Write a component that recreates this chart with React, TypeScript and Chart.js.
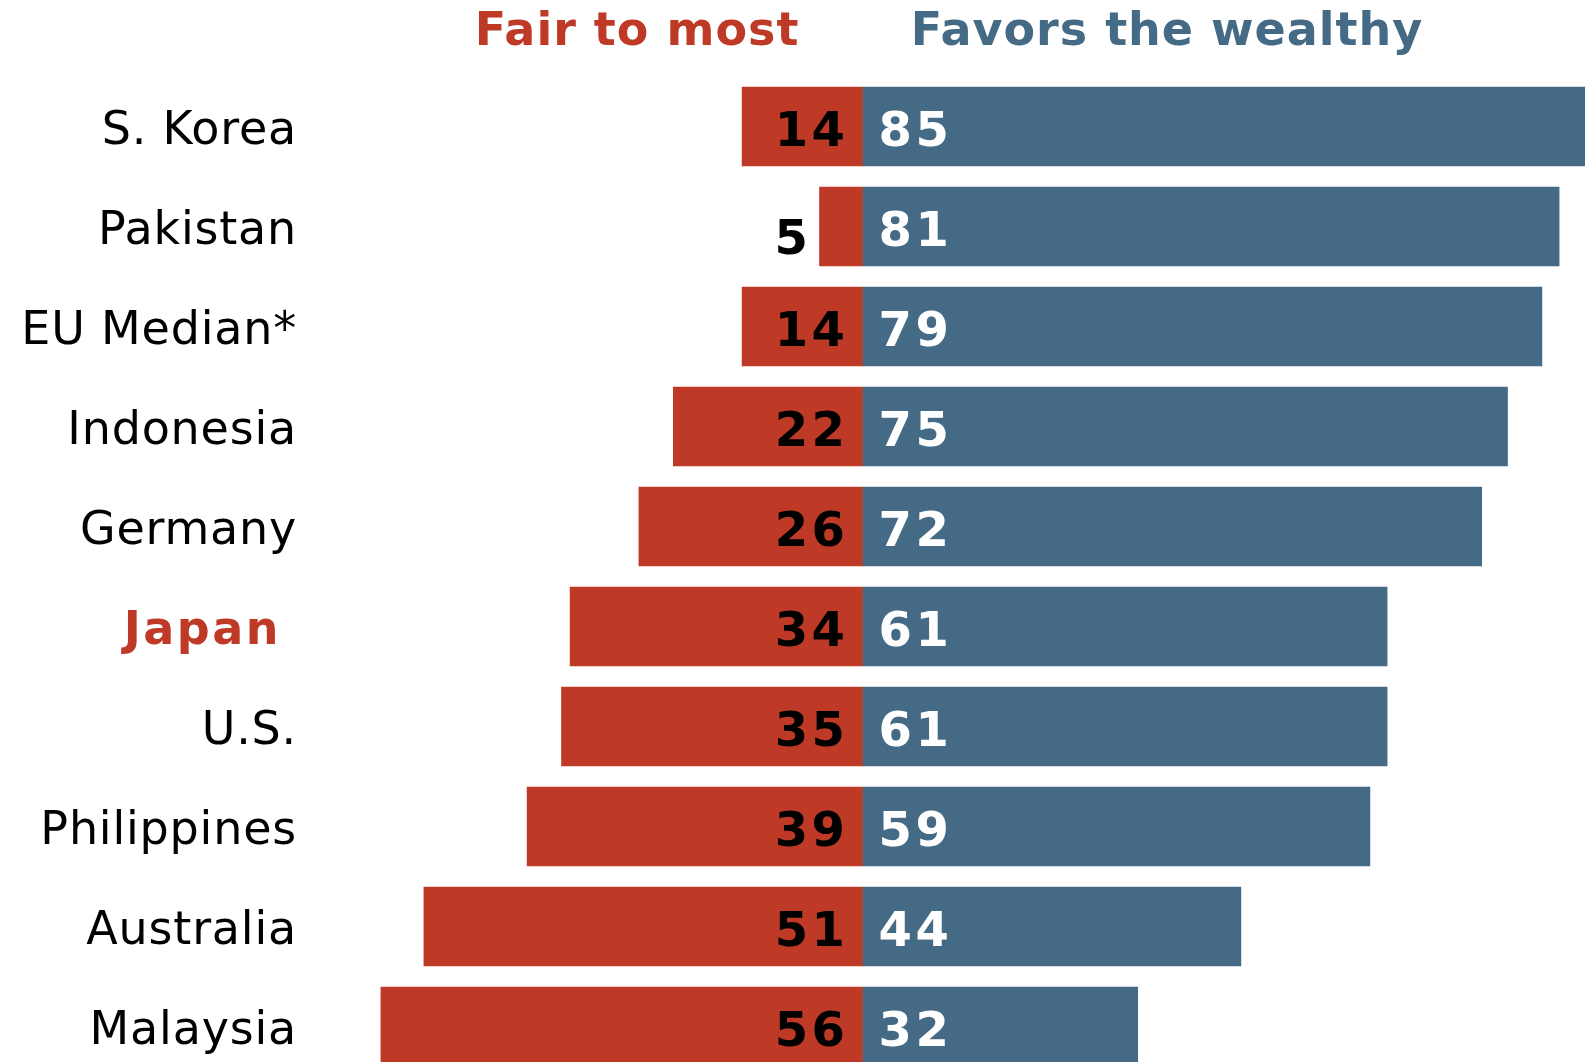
import React, { useEffect, useRef } from 'react';
import { Chart, registerables } from 'chart.js';

Chart.register(...registerables);

const countries = ['S. Korea', 'Pakistan', 'EU Median*', 'Indonesia', 'Germany', 'Japan', 'U.S.', 'Philippines', 'Australia', 'Malaysia'];
const fairToMost = [14, 5, 14, 22, 26, 34, 35, 39, 51, 56];
const favorsWealthy = [85, 81, 79, 75, 72, 61, 61, 59, 44, 32];
const seriesLabels = ['Fair to most', 'Favors the wealthy'];
const highlightCountry = 'Japan';

const RED = '#BE3A27';
const BLUE = '#456A85';
const FONT = "'DejaVu Sans', Verdana, sans-serif";

const labelPlugin = {
  id: 'diverging-labels',
  afterDatasetsDraw(chart: any) {
    const ctx = chart.ctx as CanvasRenderingContext2D;
    const xs = chart.scales.x;
    const ys = chart.scales.y;
    const zero = xs.getPixelForValue(0);
    ctx.save();

    // Series headers
    ctx.font = `bold 46px ${FONT}`;
    (ctx as any).letterSpacing = '1px';
    ctx.textAlign = 'center';
    ctx.textBaseline = 'alphabetic';
    ctx.fillStyle = RED;
    ctx.fillText(seriesLabels[0], 637, 45);
    ctx.fillStyle = BLUE;
    ctx.fillText(seriesLabels[1], 1167, 45);

    countries.forEach((name, i) => {
      const cy = ys.getPixelForValue(i);
      // Country labels
      ctx.textAlign = 'right';
      if (name === highlightCountry) {
        ctx.font = `bold 46px ${FONT}`;
        (ctx as any).letterSpacing = '2.5px';
        ctx.fillStyle = RED;
        ctx.fillText(name, 281, cy + 17);
      } else {
        ctx.font = `46px ${FONT}`;
        (ctx as any).letterSpacing = '0.8px';
        ctx.fillStyle = '#000';
        ctx.fillText(name, 297, cy + 17);
      }

      // Value labels
      ctx.font = `bold 48px ${FONT}`;
      (ctx as any).letterSpacing = '3.5px';
      const left = xs.getPixelForValue(-fairToMost[i]);
      const inside = zero - left > 70;
      ctx.fillStyle = '#000';
      ctx.textAlign = 'right';
      if (inside) {
        ctx.fillText(String(fairToMost[i]), zero - 14, cy + 19);
      } else {
        ctx.fillText(String(fairToMost[i]), left - 8, cy + 27);
      }
      ctx.fillStyle = '#fff';
      ctx.textAlign = 'left';
      ctx.fillText(String(favorsWealthy[i]), zero + 16, cy + 19);
    });
    ctx.restore();
  },
};

export default function App() {
  const ref = useRef<HTMLCanvasElement>(null);
  useEffect(() => {
    if (!ref.current) return;
    const chart = new Chart(ref.current, {
      type: 'bar',
      data: {
        datasets: [
          {
            label: seriesLabels[0],
            data: fairToMost.map((v, i) => ({ x: -v, y: i })),
            backgroundColor: RED,
            borderWidth: 0,
            barThickness: 79,
          },
          {
            label: seriesLabels[1],
            data: favorsWealthy.map((v, i) => ({ x: v, y: i })),
            backgroundColor: BLUE,
            borderWidth: 0,
            barThickness: 79,
          },
        ],
      } as any,
      options: {
        indexAxis: 'y',
        responsive: false,
        animation: false,
        maintainAspectRatio: false,
        layout: { padding: 0 },
        plugins: { legend: { display: false }, tooltip: { enabled: false } },
        scales: {
          x: { type: 'linear', min: -862.5 / 8.6, max: (1585 - 862.5) / 8.6, stacked: true, display: false, offset: false, grace: 0 },
          y: { type: 'linear', min: -1.265, max: 9.355, reverse: true, stacked: true, display: false, offset: false, grace: 0 },
        },
      } as any,
      plugins: [labelPlugin],
    });
    return () => chart.destroy();
  }, []);
  return (
    <div style={{ position: 'fixed', left: 0, top: 0, width: 1585, height: 1062, background: '#fff' }}>
      <canvas ref={ref} width={1585} height={1062} style={{ display: 'block' }} />
    </div>
  );
}
